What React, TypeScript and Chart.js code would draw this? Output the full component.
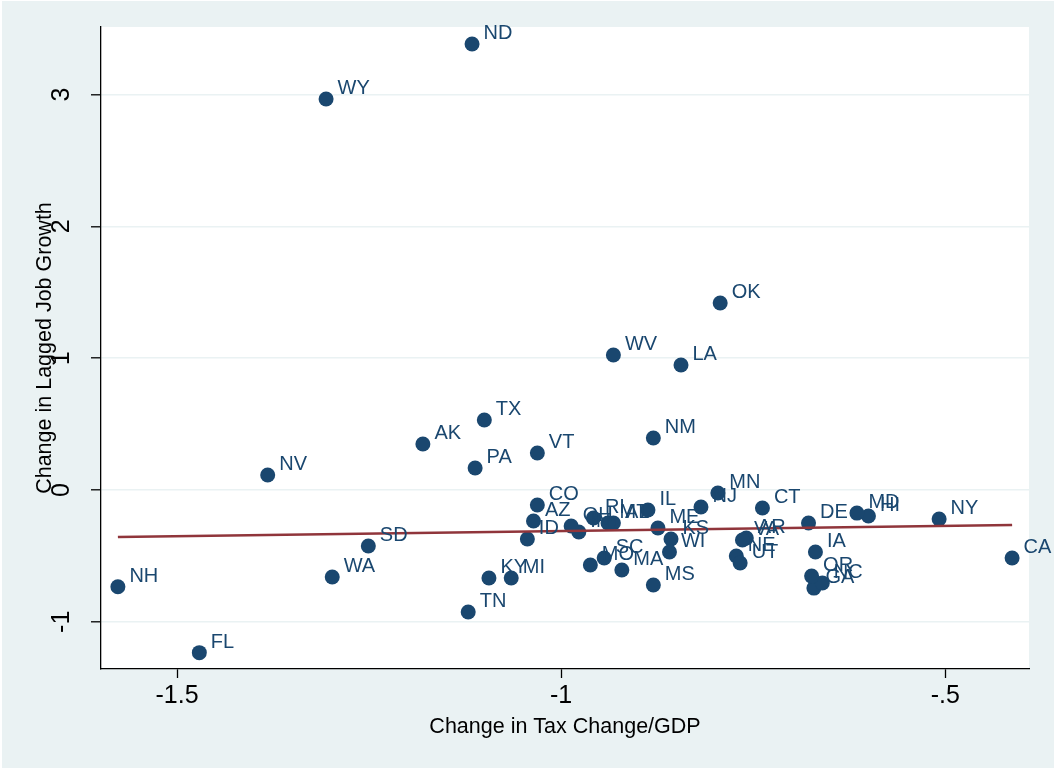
import React, { useEffect, useRef } from "react";
import { Chart, registerables } from "chart.js";

Chart.register(...registerables);

const W = 1054;
const H = 771;

const states = [
  "AL", "AK", "AZ", "AR", "CA", "CO", "CT", "DE", "FL", "GA",
  "HI", "ID", "IL", "IN", "IA", "KS", "KY", "LA", "ME", "MD",
  "MA", "MI", "MN", "MS", "MO", "MT", "NE", "NV", "NH", "NJ",
  "NM", "NY", "NC", "ND", "OH", "OK", "OR", "PA", "RI", "SC",
  "SD", "TN", "TX", "UT", "VT", "VA", "WA", "WV", "WI", "WY",
];

const taxChange = [
  -0.932, -1.180, -1.036, -0.759, -0.413, -1.031, -0.738, -0.678, -1.471, -0.671,
  -0.600, -1.044, -0.887, -0.977, -0.669, -0.857, -1.094, -0.844, -0.874, -0.615,
  -0.921, -1.065, -0.796, -0.880, -0.962, -0.939, -0.772, -1.382, -1.577, -0.818,
  -0.880, -0.508, -0.660, -1.116, -0.987, -0.793, -0.674, -1.112, -0.958, -0.944,
  -1.251, -1.121, -1.100, -0.767, -1.031, -0.764, -1.298, -0.932, -0.859, -1.306,
];

const jobGrowth = [
  -0.250, 0.349, -0.235, -0.364, -0.516, -0.114, -0.137, -0.250, -1.234, -0.744,
  -0.197, -0.372, -0.152, -0.319, -0.470, -0.372, -0.668, 0.948, -0.288, -0.175,
  -0.607, -0.668, -0.023, -0.721, -0.569, -0.250, -0.501, 0.114, -0.734, -0.129,
  0.395, -0.220, -0.706, 3.384, -0.273, 1.419, -0.653, 0.167, -0.212, -0.516,
  -0.425, -0.926, 0.531, -0.554, 0.281, -0.379, -0.660, 1.024, -0.470, 2.967,
];

const fitX = [-1.577, -0.413];
const fitY = [-0.357, -0.266];

const xTicks = [-1.5, -1, -0.5];
const yTicks = [-1, 0, 1, 2, 3];

const xTitle = "Change in Tax Change/GDP";
const yTitle = "Change in Lagged Job Growth";

const NAVY = "#1a476f";
const MAROON = "#90353b";
const BG = "#eaf2f3";
const FONT = "'Liberation Sans', Arial, Helvetica, sans-serif";

const fmt = (v: number) => String(v).replace(/^(-?)0\./, "$1.");

const stataPlugin = {
  id: "stataLook",
  beforeDraw(chart: any) {
    const { ctx, chartArea } = chart;
    ctx.save();
    ctx.fillStyle = "#ffffff";
    ctx.fillRect(0, 0, W, H);
    ctx.fillStyle = BG;
    ctx.fillRect(2, 1, W - 2, H - 4);
    ctx.fillStyle = "#ffffff";
    ctx.fillRect(
      chartArea.left,
      chartArea.top,
      chartArea.right - chartArea.left,
      chartArea.bottom - chartArea.top
    );
    ctx.restore();
  },
  afterDatasetsDraw(chart: any) {
    const { ctx } = chart;
    const meta = chart.getDatasetMeta(1);
    ctx.save();
    ctx.font = `20px ${FONT}`;
    ctx.fillStyle = NAVY;
    ctx.textAlign = "left";
    ctx.textBaseline = "middle";
    meta.data.forEach((pt: any, i: number) => {
      ctx.fillText(states[i], pt.x + 11.5, pt.y - 10.5);
    });
    ctx.restore();
  },
  afterDraw(chart: any) {
    const { ctx } = chart;
    const ys = chart.scales.y;
    ctx.save();
    ctx.font = `25px ${FONT}`;
    ctx.fillStyle = "#000";
    ctx.textAlign = "center";
    ctx.textBaseline = "middle";
    yTicks.forEach((v) => {
      const py = ys.getPixelForValue(v);
      ctx.save();
      ctx.translate(62, py);
      ctx.rotate(-Math.PI / 2);
      ctx.fillText(fmt(v), 0, 0);
      ctx.restore();
    });
    ctx.restore();
  },
};

export default function App() {
  const ref = useRef<HTMLCanvasElement | null>(null);

  useEffect(() => {
    document.body.style.margin = "0";
    document.body.style.overflow = "hidden";
    const canvas = ref.current;
    if (!canvas) return;
    Chart.defaults.font.family = FONT;
    const chart = new Chart(canvas, {
      type: "scatter",
      data: {
        datasets: [
          {
            type: "line",
            label: "Fitted values",
            data: fitX.map((x, i) => ({ x, y: fitY[i] })),
            borderColor: MAROON,
            borderWidth: 2.4,
            pointRadius: 0,
            fill: false,
            order: 0,
          } as any,
          {
            label: "States",
            data: taxChange.map((x, i) => ({ x, y: jobGrowth[i] })),
            backgroundColor: NAVY,
            borderWidth: 0,
            pointRadius: 7.5,
            pointHoverRadius: 7.5,
            order: 1,
          },
        ],
      },
      options: {
        animation: false,
        responsive: false,
        devicePixelRatio: 1,
        layout: { padding: { left: 0, top: 27, right: 25, bottom: 0 } },
        plugins: {
          legend: { display: false },
          tooltip: { enabled: false },
        },
        scales: {
          x: {
            type: "linear",
            min: -1.599,
            max: -0.391,
            afterBuildTicks: (s: any) => {
              s.ticks = xTicks.map((v) => ({ value: v }));
            },
            afterFit: (s: any) => {
              s.height = 102;
            },
            border: { display: true, color: "#000", width: 1.3 },
            grid: {
              display: true,
              drawOnChartArea: false,
              drawTicks: true,
              tickLength: 9,
              tickColor: "#000",
              tickWidth: 1.3,
            },
            ticks: {
              color: "#000",
              font: { size: 25 },
              padding: 3,
              maxRotation: 0,
              minRotation: 0,
              callback: (v: any) => fmt(Number(v)),
            },
            title: {
              display: true,
              text: xTitle,
              color: "#000",
              font: { size: 21.5 },
              padding: { top: 0, bottom: 31 },
            },
          },
          y: {
            type: "linear",
            min: -1.358,
            max: 3.513,
            afterBuildTicks: (s: any) => {
              s.ticks = yTicks.map((v) => ({ value: v }));
            },
            afterFit: (s: any) => {
              s.width = 101;
            },
            border: { display: true, color: "#000", width: 1.3 },
            grid: {
              display: true,
              drawOnChartArea: true,
              color: BG,
              lineWidth: 1.6,
              drawTicks: true,
              tickLength: 10,
              tickColor: "#000",
              tickWidth: 1.3,
            },
            ticks: { display: false },
            title: {
              display: true,
              text: yTitle,
              color: "#000",
              font: { size: 21.5 },
              padding: { top: 32, bottom: 0 },
            },
          },
        },
      },
      plugins: [stataPlugin],
    });
    return () => chart.destroy();
  }, []);

  return (
    <canvas
      ref={ref}
      width={W}
      height={H}
      style={{ display: "block", width: W, height: H }}
    />
  );
}
